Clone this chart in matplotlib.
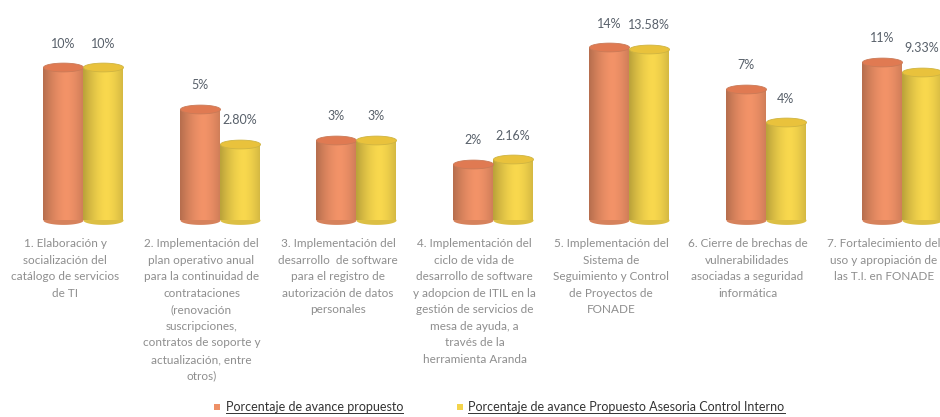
import numpy as np
import matplotlib
matplotlib.use("Agg")
import matplotlib.pyplot as plt
from matplotlib.path import Path
from matplotlib.colors import to_rgb
from matplotlib.transforms import blended_transform_factory, offset_copy
from matplotlib.lines import Line2D

# ---------------- data ----------------
categories = [
    "1. Elaboración y\nsocialización del\ncatálogo de servicios\nde TI",
    "2. Implementación del\nplan operativo anual\npara la continuidad de\ncontrataciones\n(renovación\nsuscripciones,\ncontratos de soporte y\nactualización, entre\notros)",
    "3. Implementación del\ndesarrollo  de software\npara el registro de\nautorización de datos\npersonales",
    "4. Implementación del\nciclo de vida de\ndesarrollo de software\ny adopcion de ITIL en la\ngestión de servicios de\nmesa de ayuda, a\ntravés de la\nherramienta Aranda",
    "5. Implementación del\nSistema de\nSeguimiento y Control\nde Proyectos de\nFONADE",
    "6. Cierre de brechas de\nvulnerabilidades\nasociadas a seguridad\ninformática",
    "7. Fortalecimiento del\nuso y apropiación de\nlas T.I. en FONADE",
]
proposed = [10, 5, 3, 2, 14, 7, 11]
control = [10, 2.80, 3, 2.16, 13.58, 4, 9.33]
series_names = ["Porcentaje de avance propuesto",
                "Porcentaje de avance Propuesto Asesoria Control Interno"]

# ---------------- style ----------------
plt.rcParams['font.family'] = ["Lato", "DejaVu Sans"]
W, H = 940, 417
fig = plt.figure(figsize=(W / 100, H / 100), dpi=100)
fig.patch.set_facecolor("white")

ax = fig.add_axes([0, 197 / H, 1, 220 / H])
ax.set_yscale("log")
BASE = 0.788
ax.set_ylim(BASE, 30.7)
ax.set_xlim(-0.608, 6.278)
ax.axis("off")

bar_w = 40 / 136.5
body_cols = ["#EE9066", "#F4D44C"]
top_cols = ["#E07A52", "#E9C23C"]

t = np.linspace(0, 2 * np.pi, 80)
ell = Path(np.column_stack([np.cos(t), 0.22 * np.sin(t)]))
msize = 40 * 72 / 100  # marker width in points


def fmt(v):
    return f"{v:.0f}%" if float(v).is_integer() else f"{v:.2f}%"


x = np.arange(len(categories))
for k, (vals, off) in enumerate([(proposed, -bar_w / 2), (control, bar_w / 2)]):
    xs = x + off
    bars = ax.bar(xs, np.array(vals) - BASE, bottom=BASE, width=bar_w,
                  color=body_cols[k], linewidth=0, zorder=2)
    # cylinder shading
    c = np.array(to_rgb(body_cols[k]))
    prof = np.linspace(-1, 1, 64)
    shade = 0.82 + 0.20 * (1 - np.abs(prof - 0.15) ** 1.6)
    img = np.clip(c[None, :] * shade[:, None], 0, 1)[None, :, :]
    for rect in bars:
        x0 = rect.get_x()
        im = ax.imshow(img, extent=[x0, x0 + rect.get_width(), BASE,
                                    BASE + rect.get_height()],
                       aspect="auto", zorder=2.1, interpolation="bilinear")
        im.set_clip_path(rect)
    # bottom rounded cap
    ax.plot(xs, [BASE] * len(xs), linestyle="none", marker=ell,
            markersize=msize, color=np.clip(c * 0.9, 0, 1), markeredgewidth=0,
            zorder=1.9, clip_on=False)
    # top cap
    ax.plot(xs, vals, linestyle="none", marker=ell, markersize=msize,
            color=top_cols[k], markeredgecolor=np.clip(c * 0.85, 0, 1),
            markeredgewidth=0.6, zorder=3, clip_on=False)
    for xi, v in zip(xs, vals):
        ax.annotate(fmt(v), (xi, v), xytext=(0, 17), textcoords="offset points",
                    ha="center", va="center", fontsize=9, color="#58606A",
                    zorder=4, annotation_clip=False)

# category labels below bars (slightly left of the group centre, as in source)
tr = offset_copy(blended_transform_factory(ax.transData, fig.transFigure),
                 fig=fig, x=-18, y=0, units="dots")
for xi, lab in zip(x, categories):
    ax.text(xi, (H - 238) / H, lab, transform=tr, ha="center", va="top",
            fontsize=8.5, color="#8E8E8E", linespacing=1.62)

# legend
handles = [Line2D([], [], linestyle="none", marker="s", markersize=5,
                  color=body_cols[k], markeredgewidth=0) for k in range(2)]
leg = fig.legend(handles, series_names, loc="center", ncol=2,
                 bbox_to_anchor=(499 / W, 10 / H), frameon=False,
                 fontsize=9, handlelength=0.6, handletextpad=0.4,
                 columnspacing=4.2, labelcolor="#333333")

fig.canvas.draw()
r = fig.canvas.get_renderer()
for txt in leg.get_texts():
    bb = txt.get_window_extent(r)
    y = (bb.y0 + 0.5) / H
    fig.add_artist(Line2D([bb.x0 / W, bb.x1 / W], [y, y], color="#333333",
                          linewidth=0.7, transform=fig.transFigure))

fig.savefig("out.png", dpi=100)
